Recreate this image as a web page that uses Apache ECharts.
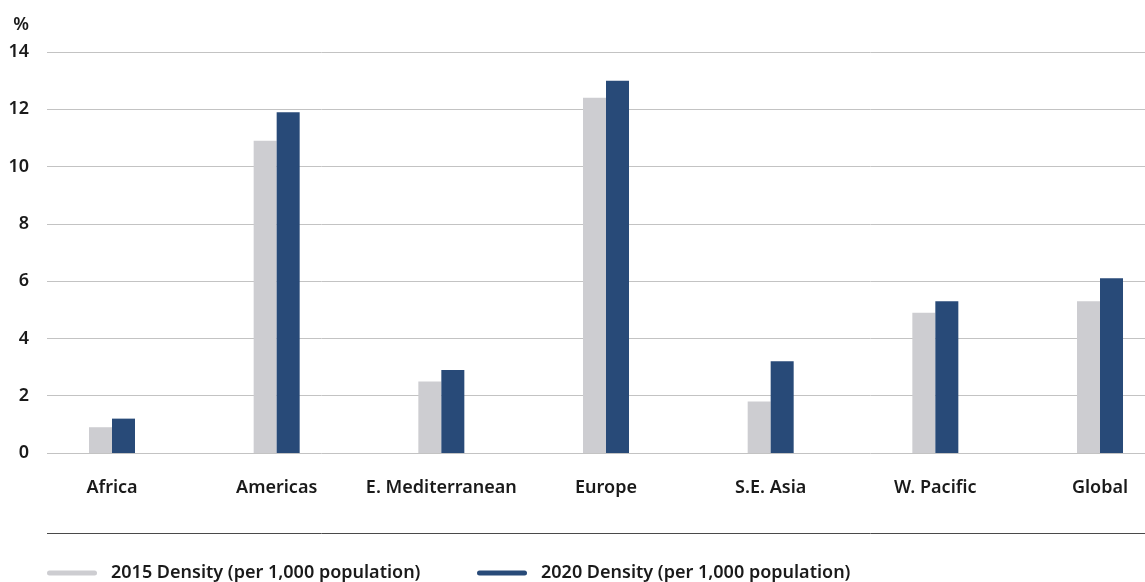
<!DOCTYPE html>
<html>
<head>
<meta charset="utf-8">
<style>
  html, body { margin: 0; padding: 0; background: #ffffff; }
  #chart { width: 1145px; height: 582px; }
</style>
<script src="https://cdn.jsdelivr.net/npm/echarts@6/dist/echarts.min.js"></script>
</head>
<body>
<div id="chart"></div>
<script>
// WHO regions and the global figure
const categories = ['Africa', 'Americas', 'E. Mediterranean', 'Europe', 'S.E. Asia', 'W. Pacific', 'Global'];
// Density per 1,000 population
const density2015 = [0.9, 10.9, 2.5, 12.4, 1.8, 4.9, 5.3];
const density2020 = [1.2, 11.9, 2.9, 13.0, 3.2, 5.3, 6.1];
const seriesNames = ['2015 Density (per 1,000 population)', '2020 Density (per 1,000 population)'];
const yTicks = { min: 0, max: 14, interval: 2 };

const FONT = '"Noto Sans", sans-serif';
const FONT_SIZE = 18;
const FONT_WEIGHT = 600;
const TEXT = '#1a1a1a';
const GREY = '#cdcdd1';
const NAVY = '#284a78';

// Rounded line used as the legend key
const keyIcon = 'path://M2.5,0 H47.5 A2.5,2.5 0 0 1 47.5,5 H2.5 A2.5,2.5 0 0 1 2.5,0 Z';

const labelStyle = { fontSize: FONT_SIZE, fontWeight: FONT_WEIGHT, color: TEXT, fontFamily: FONT };

const chart = echarts.init(document.getElementById('chart'), null, { renderer: 'canvas' });

const plotTop = 52;
const plotBottom = 129;

chart.setOption({
  animation: false,
  textStyle: { fontFamily: FONT, color: TEXT },
  grid: [
    // bars and category labels
    { left: 29.67, width: 1152.67, top: plotTop, bottom: plotBottom, containLabel: false, outerBoundsMode: 'none' },
    // value scale with its gridlines
    { left: 47, right: 0, top: plotTop, bottom: plotBottom, containLabel: false, outerBoundsMode: 'none' }
  ],
  xAxis: [
    {
      gridIndex: 0,
      type: 'category',
      data: categories,
      axisLine: { show: false },
      axisTick: { show: false },
      axisLabel: Object.assign({ margin: 26, interval: 0 }, labelStyle)
    },
    {
      gridIndex: 1,
      type: 'value',
      show: false
    }
  ],
  yAxis: [
    {
      gridIndex: 0,
      type: 'value',
      min: yTicks.min, max: yTicks.max, interval: yTicks.interval,
      show: false
    },
    {
      gridIndex: 1,
      type: 'value',
      min: yTicks.min, max: yTicks.max, interval: yTicks.interval,
      name: '%',
      nameLocation: 'end',
      nameGap: 18,
      nameTextStyle: Object.assign({ align: 'right', padding: [0, 18, 0, 0] }, labelStyle),
      axisLine: { show: false },
      axisTick: { show: false },
      axisLabel: Object.assign({ margin: 18 }, labelStyle),
      splitLine: { show: true, lineStyle: { color: '#c3c3c3', width: 1 } }
    }
  ],
  legend: [
    {
      left: 42, top: 559,
      data: [seriesNames[0]],
      icon: keyIcon, itemWidth: 50, itemHeight: 5,
      textStyle: Object.assign({ padding: [0, 0, 0, 9] }, labelStyle)
    },
    {
      left: 472, top: 559,
      data: [seriesNames[1]],
      icon: keyIcon, itemWidth: 50, itemHeight: 5,
      textStyle: Object.assign({ padding: [0, 0, 0, 9] }, labelStyle)
    }
  ],
  graphic: [
    {
      type: 'line',
      shape: { x1: 47, y1: 533.5, x2: 1145, y2: 533.5 },
      style: { stroke: '#4a4a4a', lineWidth: 1 },
      silent: true
    }
  ],
  series: [
    {
      name: seriesNames[0],
      type: 'bar',
      xAxisIndex: 0, yAxisIndex: 0,
      data: density2015,
      barWidth: 23,
      barGap: '0%',
      itemStyle: { color: GREY }
    },
    {
      name: seriesNames[1],
      type: 'bar',
      xAxisIndex: 0, yAxisIndex: 0,
      data: density2020,
      barWidth: 23,
      barGap: '0%',
      itemStyle: { color: NAVY }
    }
  ]
});
</script>
</body>
</html>
